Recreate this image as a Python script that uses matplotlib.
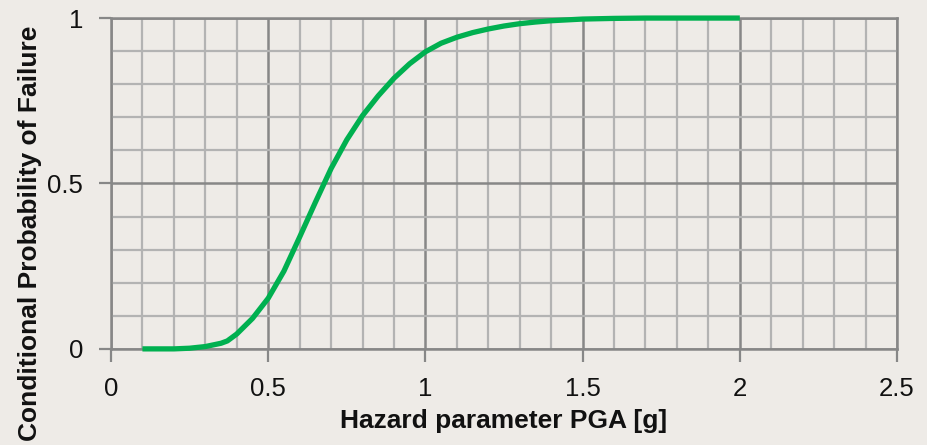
import matplotlib
matplotlib.use("Agg")
import matplotlib.pyplot as plt
from matplotlib.ticker import MultipleLocator

pga = [0.10, 0.20, 0.25, 0.30, 0.35, 0.37, 0.40, 0.45, 0.50, 0.55, 0.60, 0.65,
       0.70, 0.75, 0.80, 0.85, 0.90, 0.95, 1.00, 1.05, 1.10, 1.15, 1.20, 1.25,
       1.30, 1.35, 1.40, 1.50, 1.60, 1.70, 1.80, 1.90, 2.00]
prob = [0.000, 0.000, 0.002, 0.007, 0.017, 0.024, 0.045, 0.092, 0.153, 0.235,
        0.338, 0.443, 0.545, 0.632, 0.705, 0.765, 0.818, 0.862, 0.898, 0.924,
        0.942, 0.956, 0.967, 0.976, 0.983, 0.988, 0.992, 0.997, 0.999, 1.000,
        1.000, 1.000, 1.000]
x_ticks = [0, 0.5, 1, 1.5, 2, 2.5]
x_tick_labels = ["0", "0.5", "1", "1.5", "2", "2.5"]
y_ticks = [0, 0.5, 1]
y_tick_labels = ["0", "0.5", "1"]

plt.rcParams['font.family'] = ['Liberation Sans', 'DejaVu Sans']
bg = '#eeebe7'
fig = plt.figure(figsize=(9.28, 4.45), dpi=100, facecolor=bg)
ax = fig.add_axes([0.1196, 0.216, 0.8470, 0.7434])
ax.set_facecolor(bg)

ax.set_xlim(0, 2.5)
ax.set_ylim(0, 1)

ax.xaxis.set_minor_locator(MultipleLocator(0.1))
ax.yaxis.set_minor_locator(MultipleLocator(0.1))
ax.set_xticks(x_ticks)
ax.set_xticklabels(x_tick_labels)
ax.set_yticks(y_ticks)
ax.set_yticklabels(y_tick_labels)

ax.grid(which='minor', color='#b3b3b3', linewidth=1.6, zorder=0)
ax.grid(which='major', color='#878787', linewidth=1.8, zorder=0)
ax.set_axisbelow(True)

for s in ['top', 'right', 'left', 'bottom']:
    ax.spines[s].set_color('#878787')
    ax.spines[s].set_linewidth(1.8)

ax.tick_params(axis='both', which='major', direction='out', length=9, width=1.6,
               color='#878787', labelsize=18.5, pad=11, labelcolor='#111111')
ax.tick_params(axis='both', which='minor', length=0)

ax.plot(pga, prob, color='#00b050', linewidth=3.8, solid_joinstyle='round',
        solid_capstyle='butt', zorder=3, clip_on=False)

ax.set_xlabel('Hazard parameter PGA [g]', fontsize=19, fontweight='bold', labelpad=6, color='#111111')
ax.set_ylabel('Conditional Probability of Failure', fontsize=19, fontweight='bold', color='#111111')
ax.yaxis.set_label_coords(-0.088, 0.35)

fig.savefig('out.png', dpi=100, facecolor=bg)
